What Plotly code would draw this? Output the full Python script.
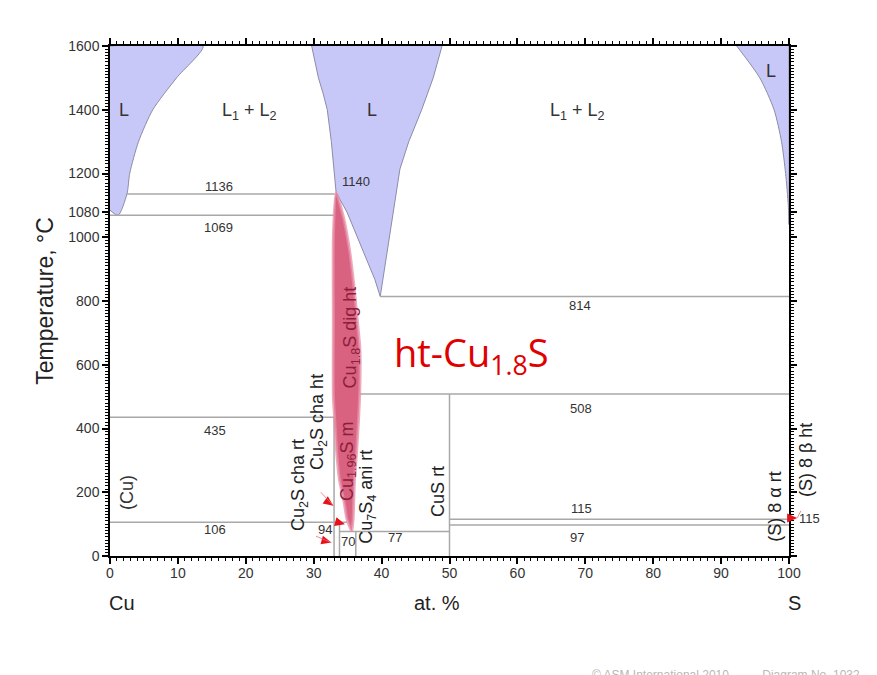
import math
import plotly.graph_objects as go

FONT = "Liberation Sans, Arial, sans-serif"
TXT = "#333333"

W, H = 877, 675
MARGIN = dict(l=110, r=88, t=46, b=119)
PLOT_W = W - MARGIN["l"] - MARGIN["r"]
PLOT_H = H - MARGIN["t"] - MARGIN["b"]
X_RANGE = [0, 100]
Y_RANGE = [0, 1600]

# ---------------- phase boundaries (x = at.% S, T = °C) ----------------
# Cu-rich liquid
liq_cu_x = [0, 13.7, 9.8, 6.3, 4.2, 2.9, 2.5, 1.2, 0]
liq_cu_T = [1600, 1600, 1500, 1400, 1300, 1200, 1136, 1069, 1085]

# liquid around Cu2S, down to the 814 °C monotectic
liq_mid_x = [29.7, 30.2, 30.7, 31.4, 32.0, 32.6, 33.0, 33.3, 34.9, 37.0, 39.0, 39.8,
             40.4, 41.1, 41.9, 42.7, 44.0, 45.9, 47.6, 48.9]
liq_mid_T = [1600, 1550, 1500, 1450, 1400, 1300, 1200, 1140, 1079, 973, 868, 814,
             899, 1003, 1110, 1214, 1300, 1400, 1500, 1600]

# S-rich liquid
liq_s_x = [92.3, 95.7, 97.8, 98.9, 99.5, 99.9, 100, 100]
liq_s_T = [1600, 1500, 1400, 1300, 1200, 1100, 1040, 1600]

# high-temperature digenite (Cu1.8S) field
dig_left_x = [33.3, 32.9, 32.9, 32.9, 33.1, 33.4, 33.8, 34.5, 34.9, 35.6]
dig_left_T = [1140, 1000, 740, 500, 428, 323, 239, 167, 116, 77]
dig_right_x = [35.6, 35.8, 36.0, 36.3, 36.6, 36.8, 36.8, 36.3, 35.9, 35.3, 34.4, 33.3]
dig_right_T = [77, 116, 239, 323, 428, 530, 650, 764, 850, 955, 1060, 1140]

# invariant (horizontal) lines
iso_T = [1136, 1069, 814, 508, 435, 115, 106, 97, 77]
iso_x0 = [2.5, 0, 39.8, 36.8, 0, 50, 0, 50, 33.8]
iso_x1 = [33.1, 33.0, 100, 100, 33.0, 100, 34.9, 100, 50]

# compound lines (vertical)
vert_x = [33.0, 33.8, 36.2, 50.0]
vert_T0 = [0, 0, 0, 0]
vert_T1 = [435, 106, 77, 508]

# temperature labels on the invariants
num_text = ["1136", "1069", "1140", "814", "508", "435", "106", "94", "70", "77", "115", "97", "115"]
num_x = [16.0, 16.0, 36.3, 69.2, 69.4, 15.5, 15.5, 31.7, 35.1, 42.0, 69.5, 68.8, 103.0]
num_T = [1160, 1031, 1176, 786, 462, 393, 82, 82, 47, 57, 148, 57, 119]

# field labels
field_text = ["L", "L<sub>1</sub> + L<sub>2</sub>", "L", "L<sub>1</sub> + L<sub>2</sub>", "L"]
field_x = [2.1, 20.5, 38.6, 68.9, 97.3]
field_T = [1400, 1393, 1400, 1393, 1522]

# vertical phase labels
phase_text = ["(Cu)", "Cu<sub>2</sub>S cha rt", "Cu<sub>2</sub>S cha ht",
              "Cu<sub>1.8</sub>S dig ht", "Cu<sub>1.96</sub>S m",
              "Cu<sub>7</sub>S<sub>4</sub> ani rt", "CuS rt",
              "(S) 8 α rt", "(S) 8 β ht"]
phase_x = [2.5, 28.0, 30.8, 35.6, 35.1, 38.0, 48.2, 97.9, 102.4]
phase_T = [201, 223, 421, 685, 299, 186, 202, 154, 302]
phase_color = [TXT, "#222222", "#222222", "#8c1e3c", "#8c1e3c", "#222222", "#222222", "#222222", "#222222"]

# red pointers: tip positions, tail positions and head direction (deg, clockwise)
ptr_x = [32.9, 34.6, 32.6, 101.2]
ptr_T = [158, 100, 42, 119]
ptr_tail_x = [30.6, 34.6, 29.9, 102.2]
ptr_tail_T = [210, 100, 66, 160]
ptr_angle = [35, 15, 15, 0]

y_ticks = [0, 200, 400, 600, 800, 1000, 1080, 1200, 1400, 1600]
x_ticks = list(range(0, 101, 10))


def to_paper(x, t):
    return ((x - X_RANGE[0]) / (X_RANGE[1] - X_RANGE[0]),
            (t - Y_RANGE[0]) / (Y_RANGE[1] - Y_RANGE[0]))


def place(x, t):
    """Data refs inside the frame, paper refs for labels beyond it."""
    if X_RANGE[0] <= x <= X_RANGE[1] and Y_RANGE[0] <= t <= Y_RANGE[1]:
        return dict(x=x, y=t, xref="x", yref="y")
    px, py = to_paper(x, t)
    return dict(x=px, y=py, xref="paper", yref="paper", xanchor="center", yanchor="middle")


def head_path(x, t, angle, length=10, width=9):
    """Filled triangle with its tip at (x, t), pointing along angle (screen degrees)."""
    px, py = to_paper(x, t)
    a = math.radians(angle)
    ux, uy = math.cos(a), math.sin(a)          # screen direction (y down)
    nx, ny = -uy, ux
    pts = [(0, 0),
           (-length * ux + width / 2 * nx, -length * uy + width / 2 * ny),
           (-length * ux - width / 2 * nx, -length * uy - width / 2 * ny)]
    coords = [(px + dx / PLOT_W, py - dy / PLOT_H) for dx, dy in pts]
    return "M " + " L ".join(f"{cx:.5f},{cy:.5f}" for cx, cy in coords) + " Z"


fig = go.Figure()

liquid_style = dict(mode="lines", fill="toself", fillcolor="#c8c8f8", hoverinfo="skip")
fig.add_trace(go.Scatter(x=liq_cu_x, y=liq_cu_T,
                         line=dict(color="#8c8ca8", width=1, shape="spline", smoothing=0.7),
                         **liquid_style))
fig.add_trace(go.Scatter(x=liq_mid_x, y=liq_mid_T,
                         line=dict(color="#8c8ca8", width=1), **liquid_style))
fig.add_trace(go.Scatter(x=liq_s_x, y=liq_s_T,
                         line=dict(color="#8c8ca8", width=1, shape="spline", smoothing=0.7),
                         **liquid_style))

# gray invariant / compound lines
hx, hy = [], []
for x0, x1, t in zip(iso_x0, iso_x1, iso_T):
    hx += [x0, x1, None]
    hy += [t, t, None]
for x, t0, t1 in zip(vert_x, vert_T0, vert_T1):
    hx += [x, x, None]
    hy += [t0, t1, None]
fig.add_trace(go.Scatter(x=hx, y=hy, mode="lines",
                         line=dict(color="#a8a8a8", width=1.5),
                         hoverinfo="skip"))

# digenite field
fig.add_trace(go.Scatter(x=dig_left_x + dig_right_x, y=dig_left_T + dig_right_T,
                         mode="lines", fill="toself",
                         fillcolor="rgb(216,98,128)",
                         line=dict(color="rgba(232,140,165,0.75)", width=3,
                                   shape="spline", smoothing=0.6),
                         hoverinfo="skip"))

ann = []
shapes = []
for x, t, ax, at, ang in zip(ptr_x, ptr_T, ptr_tail_x, ptr_tail_T, ptr_angle):
    px, py = to_paper(x, t)
    # pink leader from the label to the tip
    if (ax, at) != (x, t):
        dx = (ax - x) / (X_RANGE[1] - X_RANGE[0]) * PLOT_W
        dy = -(at - t) / (Y_RANGE[1] - Y_RANGE[0]) * PLOT_H
        ann.append(dict(x=px, y=py, xref="paper", yref="paper", ax=dx, ay=dy,
                        showarrow=True, arrowhead=0, arrowwidth=1, standoff=0,
                        arrowcolor="rgba(240,110,120,0.8)", text=" "))
    # filled red head
    shapes.append(dict(type="path", xref="paper", yref="paper", layer="above",
                       path=head_path(x, t, ang), fillcolor="#e8101a",
                       line=dict(width=0)))

for s, x, t in zip(num_text, num_x, num_T):
    ann.append(dict(text=s, showarrow=False,
                    font=dict(family=FONT, size=13, color=TXT), **place(x, t)))

for s, x, t in zip(field_text, field_x, field_T):
    ann.append(dict(text=s, showarrow=False,
                    font=dict(family=FONT, size=18, color=TXT), **place(x, t)))

for s, x, t, c in zip(phase_text, phase_x, phase_T, phase_color):
    ann.append(dict(text=s, showarrow=False, textangle=-90,
                    font=dict(family=FONT, size=18, color=c), **place(x, t)))

# highlighted phase
ann.append(dict(text="ht-Cu<sub>1.8</sub>S", showarrow=False,
                font=dict(family="Open Sans, Noto Sans, sans-serif", size=38, color="#e00000"),
                **place(53.2, 632)))

# axis titles
ann.append(dict(x=-0.096, y=0.50, xref="paper", yref="paper", text="Temperature, °C",
                textangle=-90, showarrow=False, xanchor="center", yanchor="middle",
                font=dict(family=FONT, size=23, color="#222222")))
for s, xp in [("Cu", 0.018), ("at. %", 0.4816), ("S", 1.0088)]:
    ann.append(dict(x=xp, y=-0.092, xref="paper", yref="paper", text=s,
                    xanchor="center", yanchor="middle",
                    showarrow=False, font=dict(family=FONT, size=20, color="#222222")))

# footer
ann.append(dict(x=0.707, y=-0.216, xref="paper", yref="paper", xanchor="left",
                yanchor="top", showarrow=False,
                text="© ASM International 2010          Diagram No. 1032",
                font=dict(family=FONT, size=12, color="#b8b8b8")))

axis_common = dict(showline=True, linecolor="black", linewidth=1.5, mirror="allticks",
                   ticks="outside", ticklen=6, tickwidth=1.5, tickcolor="black",
                   showgrid=False, zeroline=False,
                   tickfont=dict(family=FONT, size=14, color=TXT))

fig.update_layout(
    width=W, height=H,
    margin=MARGIN,
    paper_bgcolor="white", plot_bgcolor="white",
    showlegend=False,
    annotations=ann,
    shapes=shapes,
    xaxis=dict(range=X_RANGE, tickmode="array", tickvals=x_ticks,
               ticktext=[str(v) for v in x_ticks], ticklabelstandoff=-3,
               minor=dict(tickmode="linear", tick0=0, dtick=1, ticks="outside",
                          ticklen=3, tickwidth=1, tickcolor="black"),
               **axis_common),
    yaxis=dict(range=Y_RANGE, tickmode="array", tickvals=y_ticks,
               ticktext=[str(v) for v in y_ticks],
               minor=dict(tickmode="linear", tick0=0, dtick=10, ticks="outside",
                          ticklen=3, tickwidth=1, tickcolor="black"),
               **axis_common),
)

fig.write_html("out.html")
